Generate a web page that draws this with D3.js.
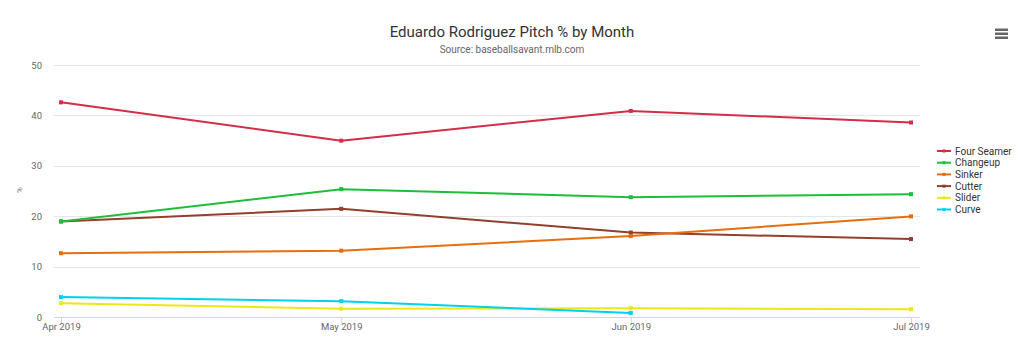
<!DOCTYPE html>
<html><head><meta charset="utf-8">
<script src="https://cdn.jsdelivr.net/npm/d3@7/dist/d3.min.js"></script>
<style>body{margin:0;background:#fff;font-family:Roboto,"Noto Sans",sans-serif}</style>
</head><body><svg id="c" width="1024" height="343"></svg>
<script>
const months = ["2019-04-01","2019-05-01","2019-06-01","2019-07-01"];
const monthLabels = ["Apr 2019","May 2019","Jun 2019","Jul 2019"];
const seriesNames = ["Four Seamer","Changeup","Sinker","Cutter","Slider","Curve"];
const seriesColors = ["#d22d49","#1dbe3a","#e86d0c","#933f2c","#eee716","#00d1ed"];
const fourSeamer = [42.6, 35.0, 40.9, 38.6];
const changeup = [19.0, 25.4, 23.8, 24.4];
const sinker = [12.7, 13.2, 16.1, 20.0];
const cutter = [19.0, 21.5, 16.8, 15.5];
const slider = [2.8, 1.7, 1.8, 1.6];
const curve = [4.0, 3.2, 0.85, null];
const yTicks = [0,10,20,30,40,50];

const allValues = [fourSeamer, changeup, sinker, cutter, slider, curve];
const svg = d3.select("#c");
const parse = d3.timeParse("%Y-%m-%d");
const dates = months.map(parse);

const x = d3.scaleTime().domain([dates[0], dates[3]]).range([61, 911]);
const y = d3.scaleLinear().domain([0, 50]).range([317.3, 65]);
const left = 54, right = 920;

// title
svg.append("text").attr("x", 512).attr("y", 37).attr("text-anchor","middle")
  .attr("font-size", 15).attr("fill","#333").text("Eduardo Rodriguez Pitch % by Month");
svg.append("text").attr("x", 512).attr("y", 53).attr("text-anchor","middle")
  .attr("font-size", 10).attr("fill","#666").text("Source: baseballsavant.mlb.com");

// gridlines
const g = svg.append("g");
g.selectAll("line.grid").data(yTicks.filter(d=>d>0)).join("line")
  .attr("x1", left).attr("x2", right)
  .attr("y1", d=>Math.round(y(d))+0.5).attr("y2", d=>Math.round(y(d))+0.5)
  .attr("stroke","#e6e6e6").attr("stroke-width",1);
g.selectAll("text.yt").data(yTicks).join("text")
  .attr("x", 42).attr("y", d=>y(d)+3.5).attr("text-anchor","end")
  .attr("font-size", 9.5).attr("fill","#666").text(d=>d);

// y title
svg.append("text").attr("transform","translate(22,190) rotate(-90)")
  .attr("text-anchor","middle").attr("font-size",8).attr("fill","#666").text("%");

// x axis
const xAxis = d3.axisBottom(x).tickValues(dates).tickFormat((d,i)=>monthLabels[i]).tickSize(6).tickSizeOuter(0);
const ax = svg.append("g").attr("transform",`translate(0,${Math.round(y(0))+0.5})`).call(xAxis);
ax.select(".domain").remove();
ax.append("line").attr("x1", left).attr("x2", right).attr("stroke","#ccd6eb");
ax.selectAll(".tick line").attr("stroke","#ccd6eb");
ax.selectAll(".tick text").attr("fill","#666").attr("font-size",9.5).attr("font-family","Roboto").attr("dy","0.4em");

// lines
const line = d3.line().defined(d=>d.v!=null).x(d=>x(d.date)).y(d=>y(d.v));
const order = [4,5,3,2,1,0];
order.forEach(si=>{
  const data = dates.map((dt,i)=>({date:dt, v: allValues[si][i]}));
  svg.append("path").datum(data).attr("d", line).attr("fill","none")
    .attr("stroke", seriesColors[si]).attr("stroke-width", 2).attr("stroke-linejoin","round");
  svg.selectAll(null).data(data.filter(d=>d.v!=null)).join("rect")
    .attr("x", d=>x(d.date)-2).attr("y", d=>y(d.v)-2).attr("width",4).attr("height",4)
    .attr("fill", seriesColors[si]);
});

// legend
const lg = svg.append("g");
seriesNames.forEach((n,i)=>{
  const yy = 151 + i*11.7;
  lg.append("line").attr("x1",937).attr("x2",951).attr("y1",yy).attr("y2",yy)
    .attr("stroke",seriesColors[i]).attr("stroke-width",2);
  lg.append("rect").attr("x",942.5).attr("y",yy-1.5).attr("width",3).attr("height",3).attr("fill",seriesColors[i]);
  lg.append("text").attr("x",955).attr("y",yy+3.5).attr("font-size",10).attr("fill","#333").text(n);
});

// menu icon
[0,4,8].forEach(o=>{
  svg.append("rect").attr("x",995).attr("y",28.5+o).attr("width",13).attr("height",2.5).attr("fill","#666");
});
</script></body></html>
